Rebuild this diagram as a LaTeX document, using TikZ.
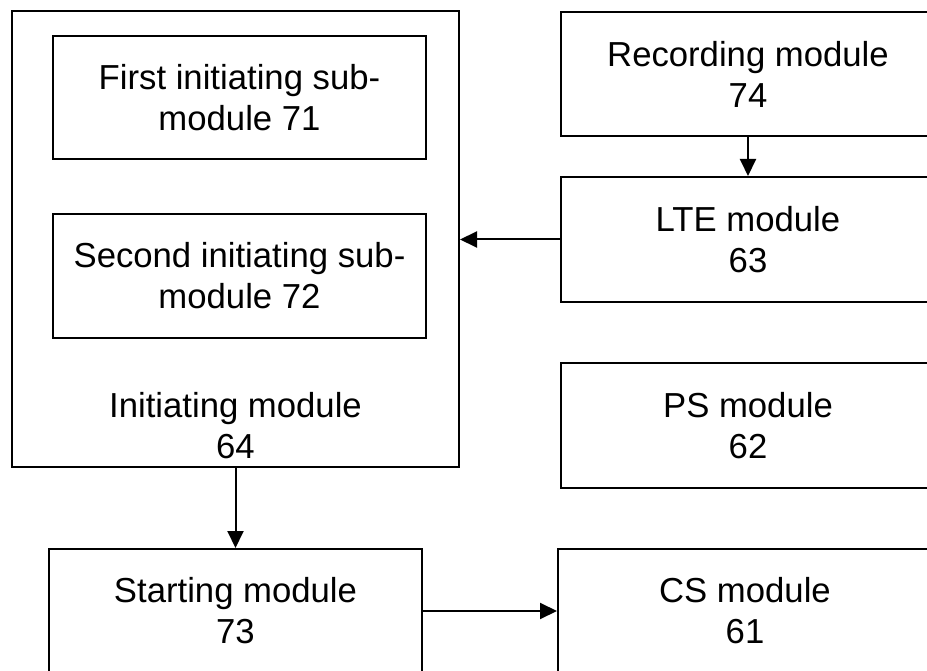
\documentclass[tikz,border=0pt]{standalone}
\usepackage{fontspec}
\setmainfont{Liberation Sans}
\usetikzlibrary{arrows.meta}
\begin{document}
\begin{tikzpicture}[x=1pt,y=-1pt,
  box/.style={draw=black,line width=2pt,rectangle,inner sep=0pt,align=center,
    font=\fontsize{34.7}{41}\selectfont},
  lbl/.style={inner sep=0pt,align=center,font=\fontsize{34.7}{41}\selectfont},
  conn/.style={draw=black,line width=2pt,-{Triangle[length=17pt,width=16pt]}}]
\useasboundingbox (0,0) rectangle (927,671);
\clip (0,0) rectangle (927,671);
\node[box,minimum width=447pt,minimum height=455pt] (init) at (235.5,239) {};
\node[box,minimum width=373pt,minimum height=123pt] (sub1) at (239.5,98) {First initiating sub-\\module 71};
\node[box,minimum width=373pt,minimum height=124pt] (sub2) at (239.5,276) {Second initiating sub-\\module 72};
\node[lbl] (initlabel) at (235.5,425.5) {Initiating module\\64};
\node[box,minimum width=374pt,minimum height=124pt] (rec) at (748,74) {Recording module\\74};
\node[box,minimum width=374pt,minimum height=125pt] (lte) at (748,239.5) {LTE module\\63};
\node[box,minimum width=374pt,minimum height=125pt] (ps) at (748,425.5) {PS module\\62};
\node[box,minimum width=374pt,minimum height=124pt] (cs) at (745,611) {CS module\\61};
\node[box,minimum width=373pt,minimum height=124pt] (start) at (235.5,611) {Starting module\\73};
\draw[conn] (rec.south) -- (lte.north);
\draw[conn] (lte.west) -- (lte.west -| init.east);
\draw[conn] (init.south) -- (start.north);
\draw[conn] (start.east) -- (cs.west);
\end{tikzpicture}
\end{document}
